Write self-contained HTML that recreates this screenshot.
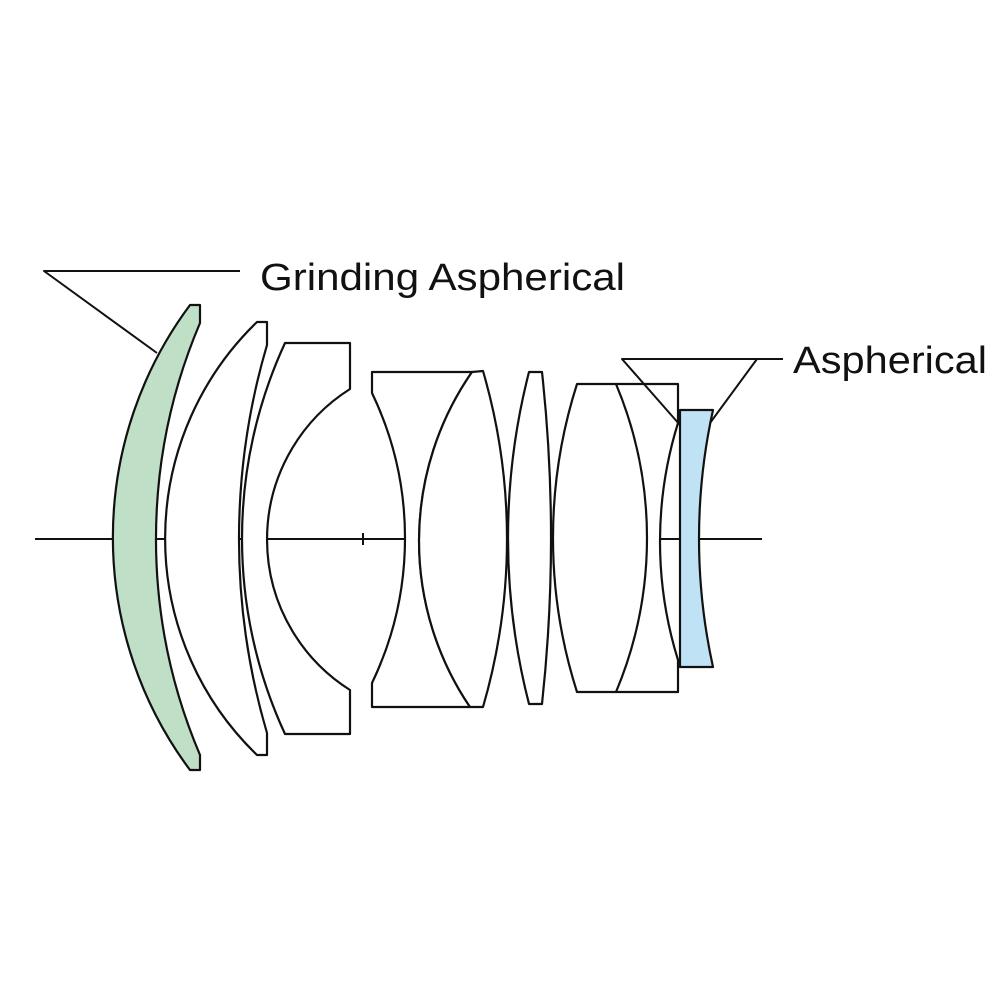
<!DOCTYPE html>
<html><head><style>html,body{margin:0;padding:0;background:#fff}</style></head>
<body>
<svg width="1000" height="1000" viewBox="0 0 1000 1000" xmlns="http://www.w3.org/2000/svg">
<rect width="1000" height="1000" fill="#fff"/>
<g stroke="#111" stroke-width="2" fill="none">
<line x1="35" y1="539" x2="762" y2="539"/>
<line x1="363" y1="533" x2="363" y2="545"/>
</g>
<g stroke="#111" stroke-width="2.2" stroke-linejoin="round">
<path fill="#bfe0c6" d="M190,305 L200,305 L200,323 A552,552 0 0 0 200,755 L200,770 L190,770 A389,389 0 0 1 190,305 Z"/>
<path fill="#fff" d="M257,322 L267,322 L267,345 A686,686 0 0 0 267,733 L267,755 L257,755 A301,301 0 0 1 257,322 Z"/>
<path fill="#fff" d="M285,343 L350,343 L350,389 A178,178 0 0 0 350,690 L350,734 L285,734 A466,466 0 0 1 285,343 Z"/>
<path fill="#fff" d="M372,372 L472,372 A296,296 0 0 0 470,707 L372,707 L372,683 A335,335 0 0 0 372,393 Z"/>
<path fill="#fff" d="M472,372 L483,371 A600,600 0 0 1 483,707 L470,707 A296,296 0 0 1 472,372 Z"/>
<path fill="#fff" d="M529,372 L542,372 A1535,1535 0 0 1 542,704 L529,704 A667,667 0 0 1 529,372 Z"/>
<path fill="#fff" d="M577,384 L678,384 L678,423 A399,399 0 0 0 678,660 L678,692 L577,692 A506,506 0 0 1 577,384 Z"/>
<path fill="none" d="M616,384 A398,398 0 0 1 616,692"/>
<path fill="#bfe3f5" d="M680,410 L713,410 A597,597 0 0 0 713,667 L680,667 Z"/>
</g>
<g stroke="#111" stroke-width="2" fill="none" stroke-linejoin="round">
<polyline points="240,271 44,271 157,353"/>
<polyline points="783,359 622,359 680,425"/>
<line x1="757" y1="359" x2="710" y2="423"/>
</g>
<text x="260" y="290" font-family="'Liberation Sans',Arial,sans-serif" font-size="38" fill="#111" textLength="365" lengthAdjust="spacingAndGlyphs">Grinding Aspherical</text>
<text x="793" y="373" font-family="'Liberation Sans',Arial,sans-serif" font-size="38" fill="#111" textLength="194" lengthAdjust="spacingAndGlyphs">Aspherical</text>
</svg>
</body></html>
